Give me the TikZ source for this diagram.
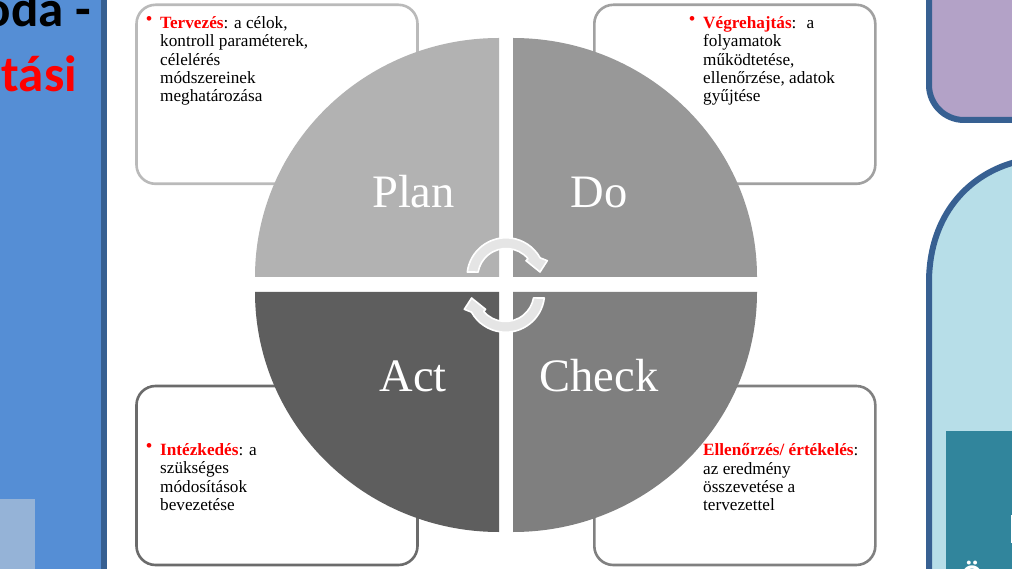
\documentclass[tikz,border=0pt]{standalone}
\usepackage{fontspec}
\setmainfont{Liberation Serif}
\newfontfamily\carl{Carlito}
\definecolor{panelblue}{HTML}{558ED5}
\definecolor{edgeblue}{HTML}{376092}
\definecolor{palepatch}{HTML}{95B3D7}
\definecolor{lilac}{HTML}{B3A2C7}
\definecolor{paleteal}{HTML}{B7DEE8}
\definecolor{deepteal}{HTML}{31859C}
\definecolor{planfill}{HTML}{B2B2B2}
\definecolor{dofill}{HTML}{989898}
\definecolor{checkfill}{HTML}{7F7F7F}
\definecolor{actfill}{HTML}{5E5E5E}
\tikzset{
  notebox/.style={draw,line width=2.6pt,rounded corners=19pt,fill=white,outer sep=0pt,inner sep=0pt,minimum width=281pt,minimum height=179pt,anchor=north west},
  bigword/.style={text=white,font=\fontsize{46.5}{46.5}\selectfont,anchor=base,inner sep=0pt},
  notetext/.style={anchor=north west,inner sep=0pt,align=left,text=black,font=\fontsize{17.2}{18.2}\selectfont},
  bullet/.style={anchor=north west,inner sep=0pt,text=red,font=\fontsize{17.2}{18.2}\selectfont\bfseries},
  cyclearrow/.style={draw=white,line width=1.6pt,fill=black!10,line join=round},
}
\newcommand{\rd}[1]{{\color{red}\bfseries #1}}
\newcommand{\cycleshape}{(467.3,272) arc[start angle=173,end angle=29,x radius=39,y radius=-39] -- (547.3,260.7) -- (540,272) -- (526,260.7) -- (528,258.7) arc[start angle=40,end angle=170,x radius=28.5,y radius=-28.5] -- cycle}
\begin{document}
\begin{tikzpicture}[x=1pt,y=-1pt]
\useasboundingbox (0,0) rectangle (1012,569);
\fill[white] (0,0) rectangle (1012,569);
% left panel
\fill[panelblue] (0,0) rectangle (101,569);
\fill[edgeblue] (101,0) rectangle (107,569);
\fill[palepatch] (0,499) rectangle (35,569);
\node[anchor=base east,inner sep=0pt,font=\carl\bfseries\fontsize{51}{51}\selectfont,text=black] (t1) at (91,26.5) {oda -};
\node[anchor=base east,inner sep=0pt,font=\carl\bfseries\fontsize{51}{51}\selectfont,text=red] (t2) at (77,92) {tási};
% right panels
\path[fill=lilac,draw=edgeblue,line width=6pt] (1030,120) -- (964,120) arc[start angle=90,end angle=180,radius=35] -- (929,-10) -- (1030,-10);
\path[fill=paleteal,draw=edgeblue,line width=6pt] (1030,159) -- (1012,163) .. controls (968,176) and (930,215) .. (929,280) -- (929,580) -- (1030,580) -- cycle;
\fill[deepteal] (946,430.5) rectangle (1012,569);
\fill[white] (1011,515) rectangle (1012,543);
\node[anchor=base,inner sep=0pt,text=white,font=\carl\bfseries\fontsize{30}{30}\selectfont] (t3) at (972,585) {Ö};
% note boxes
\node[notebox,draw=black!27] (bpl) at (136.5,4.8) {};
\node[notebox,draw=black!37] (bdo) at (594.3,4.8) {};
\node[notebox,draw=black!58] (bac) at (136.5,386) {};
\node[notebox,draw=black!50] (bch) at (594.3,386) {};
% quadrants
\fill[planfill] (499,277) -- (255,277) arc[start angle=180,end angle=90,x radius=244,y radius=-239] -- cycle;
\fill[dofill] (513,277) -- (513,38) arc[start angle=90,end angle=0,x radius=244,y radius=-239] -- cycle;
\fill[checkfill] (513,292) -- (757,292) arc[start angle=0,end angle=-90,x radius=244,y radius=-240] -- cycle;
\fill[actfill] (499,292) -- (499,532) arc[start angle=-90,end angle=-180,x radius=244,y radius=-240] -- cycle;
% words
\node[bigword] (wp) at (413.5,208) {Plan};
\node[bigword] (wd) at (599,208) {Do};
\node[bigword] (wa) at (413,391) {Act};
\node[bigword] (wc) at (599,391) {Check};
% cycle arrows
\path[cyclearrow] \cycleshape;
\begin{scope}[rotate around={180:(505.8,285)}]
\path[cyclearrow] \cycleshape;
\end{scope}
% texts
\node[bullet] (bu1) at (146,16.5) {•};
\node[notetext] (n1) at (160,16.5) {\rd{Tervezés}: a célok,\\kontroll paraméterek,\\célelérés\\módszereinek\\meghatározása};
\node[bullet] (bu2) at (689,16.5) {•};
\node[notetext] (n2) at (703,16.5) {\rd{Végrehajtás}:~ a\\folyamatok\\működtetése,\\ellenőrzése, adatok\\gyűjtése};
\node[bullet] (bu3) at (146,443.5) {•};
\node[notetext] (n3) at (160,443.5) {\rd{Intézkedés}: a\\szükséges\\módosítások\\bevezetése};
\node[notetext] (n4) at (703,443.5) {\rd{Ellenőrzés/ értékelés}:\\az eredmény\\összevetése a\\tervezettel};
\end{tikzpicture}
\end{document}
